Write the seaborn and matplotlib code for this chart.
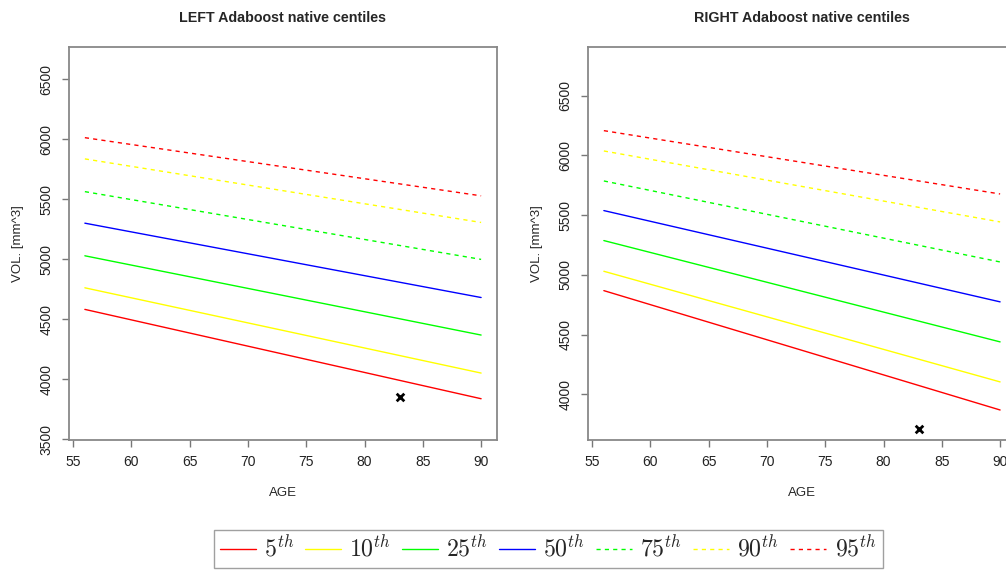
import pandas as pd
import matplotlib.pyplot as plt
import seaborn as sns

# values
ages = [56, 90]
centiles = ['5th', '10th', '25th', '50th', '75th', '90th', '95th']
legend_labels = [r'$5^{th}$', r'$10^{th}$', r'$25^{th}$', r'$50^{th}$',
                 r'$75^{th}$', r'$90^{th}$', r'$95^{th}$']
left_start = [4581, 4761, 5028, 5300, 5563, 5836, 6013]
left_end = [3836, 4050, 4367, 4680, 4998, 5306, 5528]
right_start = [4868, 5030, 5287, 5538, 5786, 6037, 6207]
right_end = [3869, 4104, 4439, 4774, 5108, 5443, 5677]
subject_age = [83]
left_subject = [3847]
right_subject = [3710]
colors = ['#FF0000', '#FFFF00', '#00FF00', '#0000FF', '#00FF00', '#FFFF00', '#FF0000']
line_dashes = ['', '', '', '', (3, 3), (3, 3), (3, 3)]


def long_table(starts, ends):
    rows = []
    for c, s, e in zip(centiles, starts, ends):
        rows.append({'AGE': ages[0], 'VOL': s, 'centile': c})
        rows.append({'AGE': ages[1], 'VOL': e, 'centile': c})
    return pd.DataFrame(rows)


sns.set_theme(style='white')
plt.rcParams['font.family'] = ['Liberation Sans', 'DejaVu Sans']
plt.rcParams['mathtext.fontset'] = 'cm'

fig = plt.figure(figsize=(10.06, 5.70), dpi=100)
ax_l = fig.add_axes([0.0686, 0.2281, 0.4254, 0.689])
ax_r = fig.add_axes([0.5845, 0.2281, 0.4254, 0.689])

panels = [
    (ax_l, left_start, left_end, left_subject, 'LEFT Adaboost native centiles',
     (3492, 6767), [3500, 4000, 4500, 5000, 5500, 6000, 6500]),
    (ax_r, right_start, right_end, right_subject, 'RIGHT Adaboost native centiles',
     (3618, 6905), [4000, 4500, 5000, 5500, 6000, 6500]),
]

for ax, starts, ends, subj, title, ylim, yticks in panels:
    df = long_table(starts, ends)
    sns.lineplot(data=df, x='AGE', y='VOL', hue='centile', style='centile',
                 hue_order=centiles, style_order=centiles,
                 palette=dict(zip(centiles, colors)),
                 dashes=dict(zip(centiles, line_dashes)),
                 linewidth=1, ax=ax, legend=(ax is ax_l))
    sns.scatterplot(x=subject_age, y=subj, marker='x', color='black',
                    s=30, linewidth=2, ax=ax, zorder=5)
    ax.set_xlim(54.64, 91.36)
    ax.set_ylim(*ylim)
    ax.set_xticks([55, 60, 65, 70, 75, 80, 85, 90])
    ax.set_yticks(yticks)
    ax.set_title(title, fontsize=10.3, fontweight='bold', pad=18)
    ax.set_xlabel('AGE', fontsize=9.5, labelpad=13)
    ax.set_ylabel('VOL. [mm^3]', fontsize=9.5, labelpad=11)
    ax.tick_params(axis='both', direction='out', length=5, width=1,
                   color='#777777', labelsize=10, labelcolor='#222222', pad=6,
                   bottom=True, left=True)
    for lbl in ax.get_yticklabels():
        lbl.set_rotation(90)
        lbl.set_va('center')
    for sp in ax.spines.values():
        sp.set_color('#888888')
        sp.set_linewidth(1.3)

handles, _ = ax_l.get_legend_handles_labels()
ax_l.get_legend().remove()
fig.legend(handles, legend_labels, ncol=7, loc='upper center',
           bbox_to_anchor=(0.545, 0.0702), fontsize=17.2, frameon=True,
           fancybox=False, edgecolor='#888888', handlelength=1.5,
           handletextpad=0.35, columnspacing=0.45, borderpad=0.25,
           borderaxespad=0)

fig.savefig('out.png', dpi=100)
